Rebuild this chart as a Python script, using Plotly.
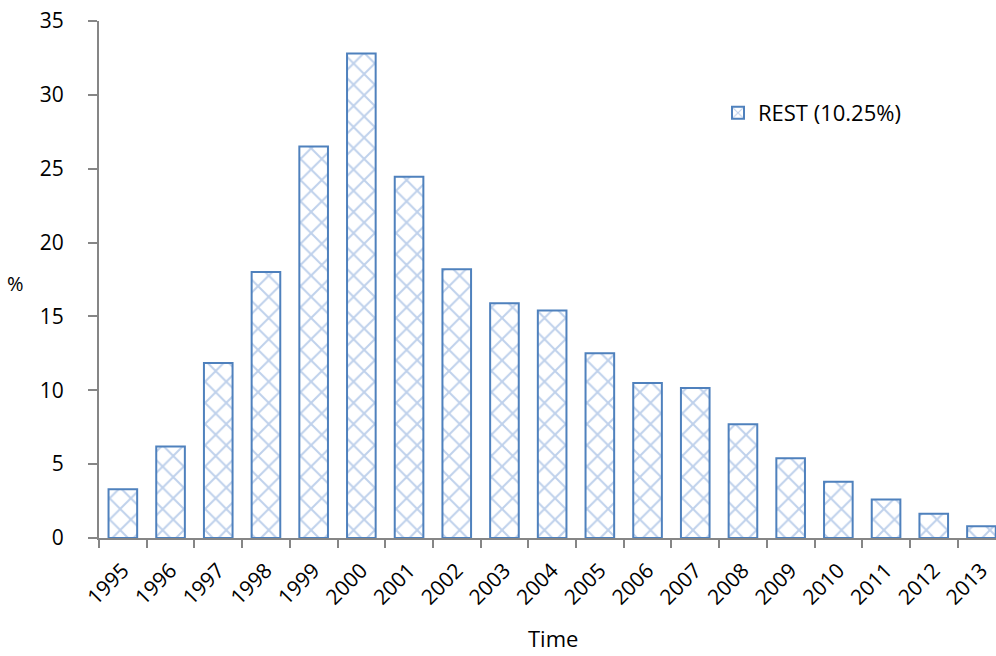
import plotly.graph_objects as go

years = ["1995", "1996", "1997", "1998", "1999", "2000", "2001", "2002", "2003", "2004",
         "2005", "2006", "2007", "2008", "2009", "2010", "2011", "2012", "2013"]
rest = [3.3, 6.2, 11.85, 18.0, 26.5, 32.8, 24.45, 18.2, 15.9, 15.4,
        12.5, 10.5, 10.15, 7.7, 5.4, 3.8, 2.6, 1.65, 0.8]
series_name = "REST (10.25%)"
y_ticks = [0, 5, 10, 15, 20, 25, 30, 35]

font = "Open Sans, Noto Sans, sans-serif"

W, H = 996, 656
L, R, T, B = 99, 0, 21, 118
pw, ph = W - L - R, H - T - B

fig = go.Figure()
fig.add_trace(go.Bar(
    x=years, y=rest, name=series_name,
    marker=dict(
        color="white",
        line=dict(color="#4F81BD", width=2),
        pattern=dict(shape="x", size=15, solidity=0.25, fgcolor="#7FA3D8", bgcolor="white", fillmode="overlay"),
    ),
    width=0.6,
))

fig.update_layout(
    width=W, height=H,
    margin=dict(l=L, r=R, t=T, b=B, autoexpand=False),
    paper_bgcolor="white", plot_bgcolor="white",
    font=dict(family=font, size=21, color="#000000"),
    showlegend=True,
    legend=dict(x=(718 - L) / pw, y=1 - (113 - T) / ph, xanchor="left", yanchor="middle",
                font=dict(size=22, family=font), bgcolor="rgba(0,0,0,0)"),
    xaxis=dict(
        type="category", showline=True, linecolor="#868686", linewidth=2,
        ticks="outside", tickson="boundaries", ticklen=8, tickwidth=2, tickcolor="#868686",
        tickangle=-45, tickfont=dict(size=21, family=font), ticklabelstandoff=10,
        ticklabeloverflow="allow",
        showgrid=False, range=[-0.5, -0.5 + pw / 47.7],
    ),
    yaxis=dict(
        range=[0, 35], tickvals=y_ticks, showline=True, linecolor="#868686", linewidth=2,
        ticks="outside", ticklen=9, tickwidth=2, tickcolor="#868686",
        tickfont=dict(size=21, family=font), ticklabelstandoff=20,
        ticklabeloverflow="allow",
        showgrid=False, zeroline=False,
    ),
    annotations=[
        dict(text="%", x=(15 - L) / pw, y=1 - (283 - T) / ph, xref="paper", yref="paper",
             showarrow=False, xanchor="center", yanchor="middle",
             font=dict(size=20, family=font)),
        dict(text="Time", x=(553 - L) / pw, y=1 - (638 - T) / ph, xref="paper", yref="paper",
             showarrow=False, xanchor="center", yanchor="middle",
             font=dict(size=22, family=font)),
    ],
)

fig.write_html("out.html",
               config={"displayModeBar": False},
               post_script="document.body.style.margin='0';document.body.style.overflow='hidden';")
